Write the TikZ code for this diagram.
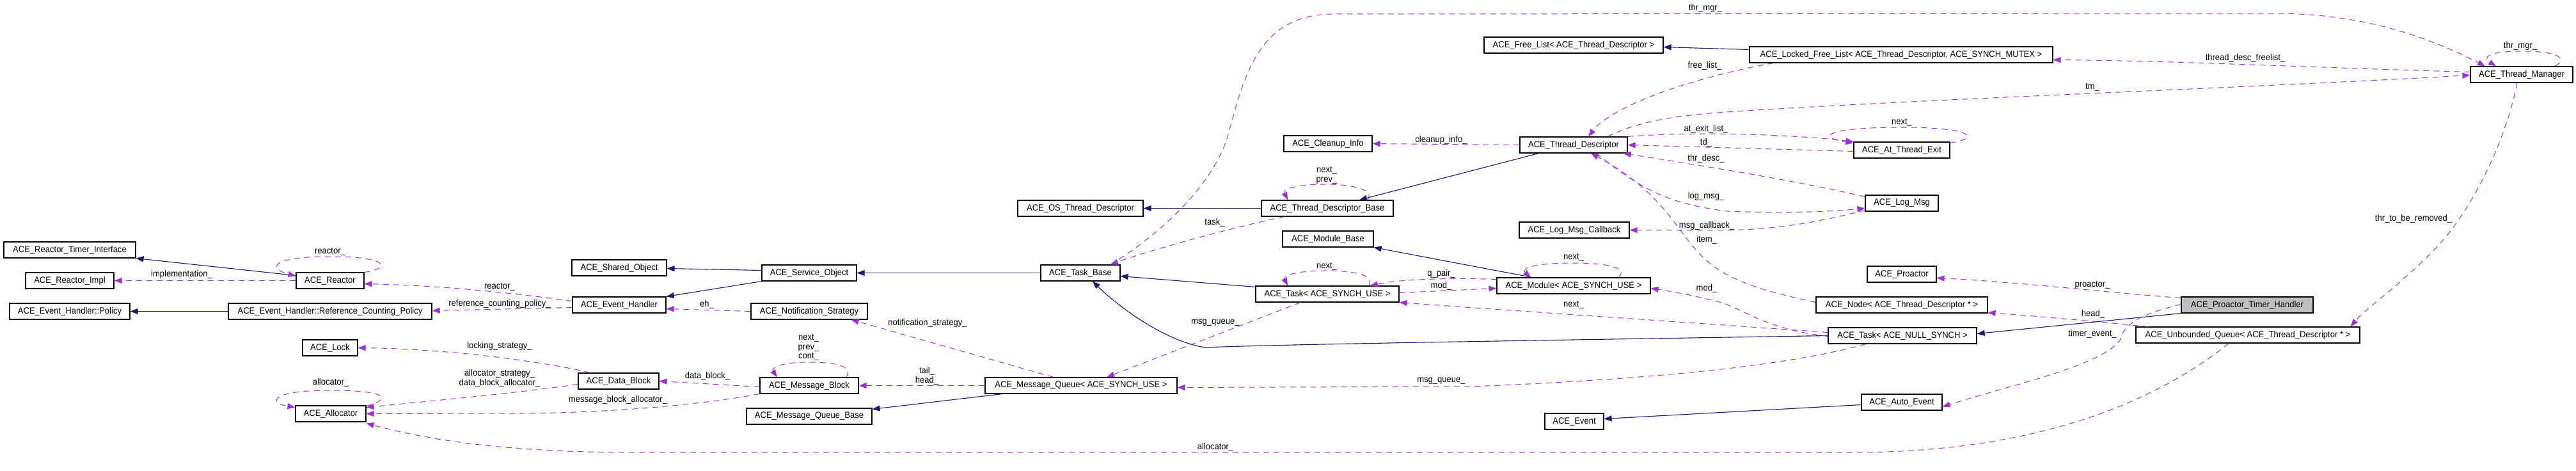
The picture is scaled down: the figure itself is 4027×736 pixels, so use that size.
\documentclass[tikz,border=0pt]{standalone}
\usepackage{fontspec}
\setmainfont[FakeStretch=0.93]{Liberation Sans}
\usetikzlibrary{arrows.meta}
\definecolor{navyc}{HTML}{191970}
\definecolor{purp}{HTML}{9A32CD}
\newcommand{\fs}{\fontsize{14}{14.5}\selectfont}
\tikzset{
  cls/.style={draw=black, line width=1.2pt, fill=white, minimum height=25pt, inner sep=0pt, font=\fs},
  inh/.style={draw=navyc, line width=1.1pt, -{Triangle[length=12pt,width=9pt]}},
  dep/.style={draw=purp, line width=1pt, dash pattern=on 9pt off 7pt, -{Triangle[length=12pt,width=9pt]}},
  lbl/.style={font=\fs, inner sep=0pt, align=center}
}
\begin{document}
\begin{tikzpicture}[x=1pt,y=1pt]
\useasboundingbox[fill=white] (0,0) rectangle (4027,-736);
% nodes
\node[cls, minimum width=206pt] (rti) at (109,-390.5) {ACE\_Reactor\_Timer\_Interface};
\node[cls, minimum width=138pt] (rimpl) at (109,-438.5) {ACE\_Reactor\_Impl};
\node[cls, minimum width=188pt] (pol) at (109,-486.5) {ACE\_Event\_Handler::Policy};
\node[cls, minimum width=106pt] (reactor) at (516,-438.5) {ACE\_Reactor};
\node[cls, minimum width=318pt] (rcp) at (516,-486.5) {ACE\_Event\_Handler::Reference\_Counting\_Policy};
\node[cls, minimum width=86pt] (lock) at (516,-543.5) {ACE\_Lock};
\node[cls, minimum width=110pt] (alloc) at (517,-646.5) {ACE\_Allocator};
\node[cls, minimum width=148pt] (shobj) at (968,-418.5) {ACE\_Shared\_Object};
\node[cls, minimum width=146pt] (evh) at (968,-476.5) {ACE\_Event\_Handler};
\node[cls, minimum width=126pt] (dblk) at (967,-595.5) {ACE\_Data\_Block};
\node[cls, minimum width=148pt] (svc) at (1265,-426.5) {ACE\_Service\_Object};
\node[cls, minimum width=182pt] (ns) at (1265,-486.5) {ACE\_Notification\_Strategy};
\node[cls, minimum width=154pt] (mblk) at (1265,-602.5) {ACE\_Message\_Block};
\node[cls, minimum width=196pt] (mqb) at (1265,-650.5) {ACE\_Message\_Queue\_Base};
\node[cls, minimum width=124pt] (tb) at (1689,-426.5) {ACE\_Task\_Base};
\node[cls, minimum width=300pt] (mq) at (1690,-602.5) {ACE\_Message\_Queue< ACE\_SYNCH\_USE >};
\node[cls, minimum width=196pt] (ostd) at (1689,-325.5) {ACE\_OS\_Thread\_Descriptor};
\node[cls, minimum width=206pt] (tdb) at (2075,-325.5) {ACE\_Thread\_Descriptor\_Base};
\node[cls, minimum width=138pt] (cleanup) at (2076,-224.5) {ACE\_Cleanup\_Info};
\node[cls, minimum width=142pt] (modb) at (2076,-373.5) {ACE\_Module\_Base};
\node[cls, minimum width=224pt] (tsu) at (2075,-459.5) {ACE\_Task< ACE\_SYNCH\_USE >};
\node[cls, minimum width=280pt] (freel) at (2460,-70.5) {ACE\_Free\_List< ACE\_Thread\_Descriptor >};
\node[cls, minimum width=168pt] (td) at (2460,-226.5) {ACE\_Thread\_Descriptor};
\node[cls, minimum width=172pt] (lmc) at (2461,-359.5) {ACE\_Log\_Msg\_Callback};
\node[cls, minimum width=240pt] (mod) at (2460,-446.5) {ACE\_Module< ACE\_SYNCH\_USE >};
\node[cls, minimum width=92pt] (event) at (2461,-658.5) {ACE\_Event};
\node[cls, minimum width=474pt] (lfl) at (2972,-85.5) {ACE\_Locked\_Free\_List< ACE\_Thread\_Descriptor, ACE\_SYNCH\_MUTEX >};
\node[cls, minimum width=150pt] (ate) at (2973,-234.5) {ACE\_At\_Thread\_Exit};
\node[cls, minimum width=114pt] (logmsg) at (2973,-317.5) {ACE\_Log\_Msg};
\node[cls, minimum width=108pt] (proactor) at (2973,-428.5) {ACE\_Proactor};
\node[cls, minimum width=268pt] (node) at (2973,-476.5) {ACE\_Node< ACE\_Thread\_Descriptor * >};
\node[cls, minimum width=232pt] (tns) at (2974,-524.5) {ACE\_Task< ACE\_NULL\_SYNCH >};
\node[cls, minimum width=126pt] (autoev) at (2973,-628.5) {ACE\_Auto\_Event};
\node[cls, minimum width=206pt, fill={rgb,255:red,191;green,191;blue,191}] (pth) at (3513,-476.5) {ACE\_Proactor\_Timer\_Handler};
\node[cls, minimum width=350pt] (uq) at (3514,-523.5) {ACE\_Unbounded\_Queue< ACE\_Thread\_Descriptor * >};
\node[cls, minimum width=160pt] (tm) at (3942,-116.5) {ACE\_Thread\_Manager};

% inheritance
\draw[inh] ([yshift=8pt]reactor.west) -- (rti.south east);
\draw[inh] (rcp.west) -- (pol.east);
\draw[inh] ([yshift=4pt]svc.west) -- ([yshift=-1pt]shobj.east);
\draw[inh] (svc.south west) -- (evh.north east);
\draw[inh] (tb.west) -- (svc.east);
\draw[inh] ([yshift=-2pt]tsu.north west) -- ([yshift=-5pt]tb.east);
\draw[inh] (tns.west) .. controls (2400,-532) and (2000,-538) .. (1884,-543) .. controls (1830,-535) and (1760,-490) .. ([xshift=19pt]tb.south);
\draw[inh] ([xshift=27pt]mq.south west) -- ([yshift=-2pt]mqb.north east);
\draw[inh] ([xshift=30pt]td.south west) -- ([xshift=50pt]tdb.north);
\draw[inh] (tdb.west) -- (ostd.east);
\draw[inh] ([yshift=8pt]lfl.west) -- ([yshift=-3pt]freel.east);
\draw[inh] ([xshift=-65pt]mod.north) -- (modb.south east);
\draw[inh] ([yshift=-4pt]autoev.west) -- ([yshift=4pt]event.east);
\draw[inh] (pth.south west) -- ([yshift=3pt]tns.east);

% usage
\draw[dep] (reactor.west) -- (rimpl.east);
\draw[dep] (reactor.north east) .. controls (610,-420) and (612,-401) .. (516,-401) .. controls (420,-401) and (420,-420) .. ([yshift=7pt]reactor.west);
\draw[dep] ([yshift=6pt]evh.west) .. controls (780,-455) and (680,-446) .. ([yshift=-5pt]reactor.east);
\draw[dep] ([yshift=-4pt]evh.west) -- ([yshift=1pt]rcp.east);
\draw[dep] (ns.west) -- ([yshift=-6pt]evh.east);
\draw[dep] ([xshift=19pt]dblk.north west) .. controls (850,-565) and (700,-545) .. (lock.east);
\draw[dep] ([yshift=-5pt]dblk.west) .. controls (800,-615) and (680,-626) .. ([yshift=10pt]alloc.east);
\draw[dep] (mblk.south west) .. controls (1100,-632) and (950,-646) .. (800,-646) -- (alloc.east);
\draw[dep] ([xshift=-30pt]uq.south) .. controls (3380,-620) and (3200,-706) .. (2900,-707) -- (1000,-707) .. controls (800,-707) and (680,-690) .. ([yshift=-15pt]alloc.east);
\draw[dep] ([yshift=12pt]alloc.east) .. controls (610,-625) and (612,-610) .. (517,-610) .. controls (420,-610) and (420,-630) .. ([yshift=10pt]alloc.west);
\draw[dep] ([yshift=-2pt]mblk.west) -- (dblk.east);
\draw[dep] ([xshift=58pt]mblk.north) .. controls (1335,-570) and (1300,-566) .. (1262,-566) .. controls (1220,-566) and (1205,-575) .. ([xshift=-50pt]mblk.north);
\draw[dep] (mq.west) -- (mblk.east);
\draw[dep] ([xshift=-43pt]mq.north) -- ([xshift=-26pt]ns.south east);
\draw[dep] ([xshift=-42pt]tsu.south) -- ([xshift=40pt]mq.north);
\draw[dep] ([xshift=-57pt]tns.south) .. controls (2800,-570) and (2600,-592) .. (2300,-604) -- ([yshift=-3pt]mq.east);
\draw[dep] ([xshift=65pt]tsu.north) .. controls (2150,-428) and (2110,-423) .. (2074,-423) .. controls (2030,-423) and (2005,-430) .. ([xshift=-62pt]tsu.north);
\draw[dep] ([yshift=10pt]mod.west) .. controls (2270,-434) and (2190,-436) .. ([xshift=67pt]tsu.north);
\draw[dep] ([yshift=2pt]tsu.east) -- ([yshift=-4pt]mod.west);
\draw[dep] ([xshift=70pt]mod.north) .. controls (2545,-420) and (2520,-411) .. (2460,-411) .. controls (2395,-411) and (2378,-420) .. ([xshift=-67pt]mod.north);
\draw[dep] ([yshift=5pt]tns.west) .. controls (2700,-508) and (2400,-488) .. (tsu.south east);
\draw[dep] ([yshift=-1pt]tns.west) .. controls (2760,-515) and (2720,-480) .. (2688,-472) .. controls (2650,-462) and (2610,-455) .. ([yshift=-4pt]mod.east);
\draw[dep] ([yshift=4pt]node.west) .. controls (2760,-455) and (2700,-440) .. (2660,-400) .. controls (2620,-360) and (2600,-300) .. ([xshift=27pt]td.south);
\draw[dep] ([xshift=35pt]td.south) .. controls (2560,-290) and (2600,-318) .. (2700,-330) .. controls (2800,-334) and (2870,-330) .. ([yshift=-8pt]logmsg.west);
\draw[dep] ([yshift=10pt]logmsg.west) .. controls (2820,-285) and (2700,-265) .. ([xshift=-7pt]td.south east);
\draw[dep] ([yshift=-11pt]logmsg.west) .. controls (2850,-345) and (2780,-360) .. (2680,-360) -- (lmc.east);
\draw[dep] (td.west) -- (cleanup.east);
\draw[dep] ([xshift=38pt]lfl.south west) .. controls (2650,-120) and (2520,-165) .. ([xshift=23pt]td.north);
\draw[dep] ([xshift=53pt]td.north) .. controls (2560,-190) and (2620,-180) .. (2700,-175) .. controls (3000,-155) and (3500,-138) .. ([yshift=-1pt]tm.west);
\draw[dep] ([yshift=4pt]tm.west) .. controls (3600,-105) and (3400,-95) .. ([yshift=-8pt]lfl.east);
\draw[dep] ([xshift=47pt]tb.north) .. controls (1800,-375) and (1890,-300) .. (1918,-217) .. controls (1945,-120) and (1965,-25) .. (2080,-22) -- (3560,-21) .. controls (3700,-22) and (3800,-60) .. ([xshift=-57pt]tm.north);
\draw[dep] ([xshift=-67pt]tdb.south) .. controls (1940,-352) and (1800,-390) .. ([xshift=47pt]tb.north);
\draw[dep] ([xshift=63pt]tdb.north) .. controls (2150,-295) and (2110,-288) .. (2072,-288) .. controls (2030,-288) and (2005,-295) .. ([xshift=-62pt]tdb.north);
\draw[dep] ([yshift=-2pt]ate.north east) .. controls (3100,-215) and (3080,-199) .. (2973,-199) .. controls (2850,-199) and (2840,-215) .. ([yshift=-2pt]ate.north west);
\draw[dep] (td.north east) .. controls (2650,-205) and (2800,-210) .. (ate.north west);
\draw[dep] ([yshift=-2pt]ate.west) -- (td.east);
\draw[dep] ([yshift=11pt]pth.west) .. controls (3300,-458) and (3150,-440) .. ([yshift=-6pt]proactor.east);
\draw[dep] ([yshift=1pt]pth.west) .. controls (3350,-490) and (3320,-505) .. (3315,-530) .. controls (3290,-570) and (3150,-600) .. ([yshift=-7pt]autoev.east);
\draw[dep] ([xshift=20pt]uq.north west) .. controls (3300,-505) and (3200,-495) .. ([yshift=-12pt]node.east);
\draw[dep] ([xshift=-7pt]tm.south) .. controls (3915,-230) and (3860,-330) .. (3815,-380) .. controls (3760,-440) and (3700,-480) .. ([xshift=-15pt]uq.north east);
\draw[dep] ([xshift=52pt]tm.north) .. controls (4010,-95) and (4010,-80) .. (3942,-80) .. controls (3890,-80) and (3880,-90) .. ([xshift=-40pt]tm.north);

% labels
\node[lbl] at (284,-429) {implementation\_};
\node[lbl] at (516,-393) {reactor\_};
\node[lbl] at (781,-448) {reactor\_};
\node[lbl] at (781,-475) {reference\_counting\_policy\_};
\node[lbl] at (1105,-476) {eh\_};
\node[lbl] at (781,-541) {locking\_strategy\_};
\node[lbl] at (781,-591.5) {allocator\_strategy\_\\data\_block\_allocator\_};
\node[lbl] at (966,-625) {message\_block\_allocator\_};
\node[lbl] at (1106,-588) {data\_block\_};
\node[lbl] at (1264,-543) {next\_\\prev\_\\cont\_};
\node[lbl] at (517,-598) {allocator\_};
\node[lbl] at (1900,-699) {allocator\_};
\node[lbl] at (1449,-587.5) {tail\_\\head\_};
\node[lbl] at (1450,-505) {notification\_strategy\_};
\node[lbl] at (1900,-504) {msg\_queue\_};
\node[lbl] at (2253,-595) {msg\_queue\_};
\node[lbl] at (1899,-348) {task\_};
\node[lbl] at (2074,-274) {next\_\\prev\_};
\node[lbl] at (2253,-219) {cleanup\_info\_};
\node[lbl] at (2074,-416) {next\_};
\node[lbl] at (2253,-428) {q\_pair\_};
\node[lbl] at (2253,-447) {mod\_};
\node[lbl] at (2460,-402) {next\_};
\node[lbl] at (2460,-476) {next\_};
\node[lbl] at (2666,-13) {thr\_mgr\_};
\node[lbl] at (2665,-103) {free\_list\_};
\node[lbl] at (2667,-202) {at\_exit\_list\_};
\node[lbl] at (2667,-223) {td\_};
\node[lbl] at (2667,-248) {thr\_desc\_};
\node[lbl] at (2667,-307) {log\_msg\_};
\node[lbl] at (2668,-353) {msg\_callback\_};
\node[lbl] at (2668,-375) {item\_};
\node[lbl] at (2668,-451) {mod\_};
\node[lbl] at (3271,-136) {tm\_};
\node[lbl] at (2973,-191) {next\_};
\node[lbl] at (3510,-91) {thread\_desc\_freelist\_};
\node[lbl] at (3940,-72) {thr\_mgr\_};
\node[lbl] at (3271,-445) {proactor\_};
\node[lbl] at (3272,-491) {head\_};
\node[lbl] at (3271,-522) {timer\_event\_};
\node[lbl] at (3773,-342) {thr\_to\_be\_removed\_};
\end{tikzpicture}
\end{document}
